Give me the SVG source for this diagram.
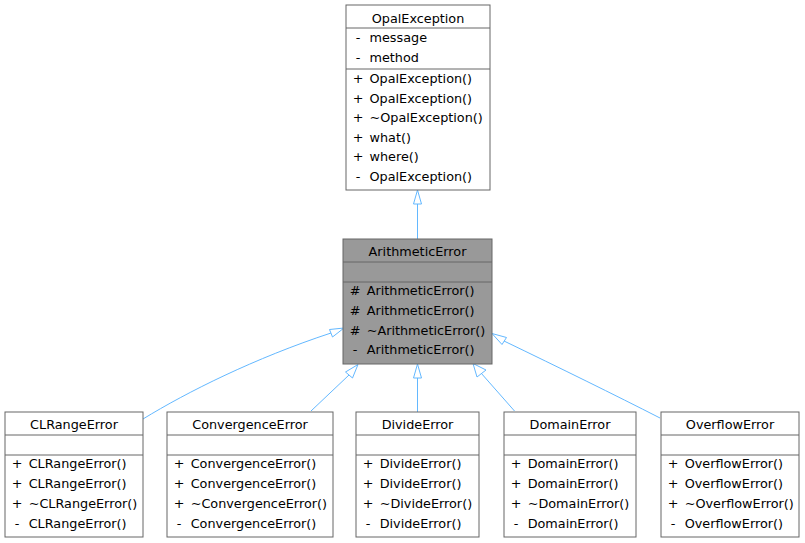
<svg xmlns="http://www.w3.org/2000/svg" width="805" height="543" viewBox="0 0 805 543">
<style>
text{font-family:"DejaVu Sans","Liberation Sans",sans-serif;font-size:12.8px;fill:#000}
.box{fill:#fff;stroke:#666;stroke-width:1}
.cur{fill:#999;stroke:#666;stroke-width:1}
.sep{stroke:#666;stroke-width:1}
.t{text-anchor:middle}
.s{text-anchor:middle}
.e{fill:none;stroke:#63b8ff;stroke-width:1}
.ah{fill:#fff;stroke:#63b8ff;stroke-width:1}
</style>
<rect width="805" height="543" fill="#fff"/>
<g id="connectors">
<path class="e" d="M417.5,239 V204"/>
<polygon class="ah" points="417.5,190 421.5,204 413.5,204"/>
<path class="e" d="M143,419 C187,392 255,358 331,333"/>
<polygon class="ah" points="344,328 332.5,337 329.5,329.5"/>
<path class="e" d="M311,411 L349,375"/>
<polygon class="ah" points="358,364.5 352.5,378 345.5,372"/>
<path class="e" d="M417.5,412 V378"/>
<polygon class="ah" points="417.5,364 421.5,378 413.5,378"/>
<path class="e" d="M514.5,411 L481,373"/>
<polygon class="ah" points="473,363.5 486,370 477,377"/>
<path class="e" d="M660,418 C615,395 560,368 504,341"/>
<polygon class="ah" points="492,333.5 506.5,337.5 502,344.5"/>
</g>
<g id="OpalException">
<rect class="box" x="346" y="5" width="144" height="185"/>
<line class="sep" x1="346" y1="28" x2="490" y2="28"/>
<line class="sep" x1="346" y1="69" x2="490" y2="69"/>
<text class="t" x="418" y="22.5">OpalException</text>
<text class="s" x="358" y="42">-</text><text x="369.5" y="42">message</text>
<text class="s" x="358" y="62">-</text><text x="369.5" y="62">method</text>
<text class="s" x="358" y="83">+</text><text x="369.5" y="83">OpalException()</text>
<text class="s" x="358" y="102.6">+</text><text x="369.5" y="102.6">OpalException()</text>
<text class="s" x="358" y="122.2">+</text><text x="369.5" y="122.2">~OpalException()</text>
<text class="s" x="358" y="141.8">+</text><text x="369.5" y="141.8">what()</text>
<text class="s" x="358" y="161.4">+</text><text x="369.5" y="161.4">where()</text>
<text class="s" x="358" y="181">-</text><text x="369.5" y="181">OpalException()</text>
</g>
<g id="ArithmeticError">
<rect class="cur" x="343" y="239" width="149" height="125"/>
<line class="sep" x1="343" y1="262" x2="492" y2="262"/>
<line class="sep" x1="343" y1="282" x2="492" y2="282"/>
<text class="t" x="417.5" y="255.7">ArithmeticError</text>
<text class="s" x="355" y="295.3">#</text><text x="366.7" y="295.3">ArithmeticError()</text>
<text class="s" x="355" y="315">#</text><text x="366.7" y="315">ArithmeticError()</text>
<text class="s" x="355" y="334.7">#</text><text x="366.7" y="334.7">~ArithmeticError()</text>
<text class="s" x="355" y="354.3">-</text><text x="366.7" y="354.3">ArithmeticError()</text>
</g>
<g id="CLRangeError">
<rect class="box" x="5" y="412" width="138" height="125"/>
<line class="sep" x1="5" y1="435" x2="143" y2="435"/>
<line class="sep" x1="5" y1="455" x2="143" y2="455"/>
<text class="t" x="74" y="429">CLRangeError</text>
<text class="s" x="17" y="468.3">+</text><text x="28.7" y="468.3">CLRangeError()</text>
<text class="s" x="17" y="488.3">+</text><text x="28.7" y="488.3">CLRangeError()</text>
<text class="s" x="17" y="508.3">+</text><text x="28.7" y="508.3">~CLRangeError()</text>
<text class="s" x="17" y="528.3">-</text><text x="28.7" y="528.3">CLRangeError()</text>
</g>
<g id="ConvergenceError">
<rect class="box" x="167" y="412" width="166" height="125"/>
<line class="sep" x1="167" y1="435" x2="333" y2="435"/>
<line class="sep" x1="167" y1="455" x2="333" y2="455"/>
<text class="t" x="250" y="429">ConvergenceError</text>
<text class="s" x="179" y="468.3">+</text><text x="190.7" y="468.3">ConvergenceError()</text>
<text class="s" x="179" y="488.3">+</text><text x="190.7" y="488.3">ConvergenceError()</text>
<text class="s" x="179" y="508.3">+</text><text x="190.7" y="508.3">~ConvergenceError()</text>
<text class="s" x="179" y="528.3">-</text><text x="190.7" y="528.3">ConvergenceError()</text>
</g>
<g id="DivideError">
<rect class="box" x="356" y="412" width="123" height="125"/>
<line class="sep" x1="356" y1="435" x2="479" y2="435"/>
<line class="sep" x1="356" y1="455" x2="479" y2="455"/>
<text class="t" x="417.5" y="429">DivideError</text>
<text class="s" x="368" y="468.3">+</text><text x="379.7" y="468.3">DivideError()</text>
<text class="s" x="368" y="488.3">+</text><text x="379.7" y="488.3">DivideError()</text>
<text class="s" x="368" y="508.3">+</text><text x="379.7" y="508.3">~DivideError()</text>
<text class="s" x="368" y="528.3">-</text><text x="379.7" y="528.3">DivideError()</text>
</g>
<g id="DomainError">
<rect class="box" x="504" y="412" width="132" height="125"/>
<line class="sep" x1="504" y1="435" x2="636" y2="435"/>
<line class="sep" x1="504" y1="455" x2="636" y2="455"/>
<text class="t" x="570" y="429">DomainError</text>
<text class="s" x="516" y="468.3">+</text><text x="527.7" y="468.3">DomainError()</text>
<text class="s" x="516" y="488.3">+</text><text x="527.7" y="488.3">DomainError()</text>
<text class="s" x="516" y="508.3">+</text><text x="527.7" y="508.3">~DomainError()</text>
<text class="s" x="516" y="528.3">-</text><text x="527.7" y="528.3">DomainError()</text>
</g>
<g id="OverflowError">
<rect class="box" x="661" y="412" width="138" height="125"/>
<line class="sep" x1="661" y1="435" x2="799" y2="435"/>
<line class="sep" x1="661" y1="455" x2="799" y2="455"/>
<text class="t" x="730" y="429">OverflowError</text>
<text class="s" x="673" y="468.3">+</text><text x="684.7" y="468.3">OverflowError()</text>
<text class="s" x="673" y="488.3">+</text><text x="684.7" y="488.3">OverflowError()</text>
<text class="s" x="673" y="508.3">+</text><text x="684.7" y="508.3">~OverflowError()</text>
<text class="s" x="673" y="528.3">-</text><text x="684.7" y="528.3">OverflowError()</text>
</g>
</svg>
